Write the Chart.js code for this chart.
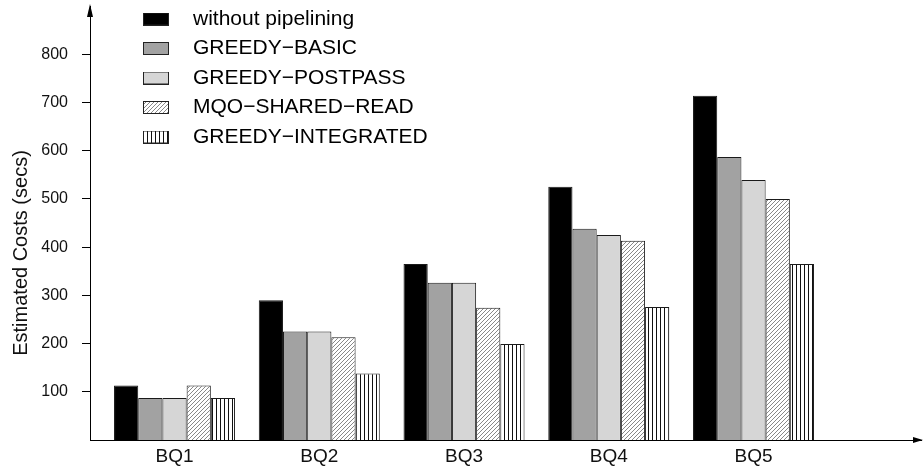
<!DOCTYPE html>
<html>
<head>
<meta charset="utf-8">
<script src="https://cdn.jsdelivr.net/npm/chart.js@4/dist/chart.umd.min.js"></script>
<style>
  body { margin: 0; background: #fff; }
  #chart { display: block; }
</style>
</head>
<body>
<canvas id="chart" width="924" height="468"></canvas>
<script>
// queries on the x axis
const queries = ['BQ1', 'BQ2', 'BQ3', 'BQ4', 'BQ5'];
const seriesNames = ['without pipelining', 'GREEDY\u2212BASIC', 'GREEDY\u2212POSTPASS', 'MQO\u2212SHARED\u2212READ', 'GREEDY\u2212INTEGRATED'];

// estimated costs (secs)
const withoutPipelining = [113, 290, 365, 525, 714];
const greedyBasic = [87, 225, 326, 438, 587];
const greedyPostpass = [87, 225, 326, 425, 539];
const mqoSharedRead = [113, 213, 274, 413, 500];
const greedyIntegrated = [87, 138, 199, 276, 365];

const yTicks = [100, 200, 300, 400, 500, 600, 700, 800];

const FONT = 'Liberation Sans, Arial, Helvetica, sans-serif';

function makeHatch() {
  const c = document.createElement('canvas');
  c.width = 4; c.height = 4;
  const g = c.getContext('2d');
  g.fillStyle = '#fff';
  g.fillRect(0, 0, 4, 4);
  g.strokeStyle = '#7a7a7a';
  g.lineWidth = 0.9;
  g.beginPath();
  g.moveTo(0, 4); g.lineTo(4, 0);
  g.moveTo(-1, 1); g.lineTo(1, -1);
  g.moveTo(3, 5); g.lineTo(5, 3);
  g.stroke();
  return g.createPattern(c, 'repeat');
}

function makeStripes() {
  const c = document.createElement('canvas');
  c.width = 4; c.height = 4;
  const g = c.getContext('2d');
  g.fillStyle = '#fff';
  g.fillRect(0, 0, 4, 4);
  g.fillStyle = '#111';
  g.fillRect(0, 0, 1, 4);
  return g.createPattern(c, 'repeat');
}

const fills = ['#000000', '#a2a2a2', '#d6d6d6', makeHatch(), makeStripes()];
const seriesData = [withoutPipelining, greedyBasic, greedyPostpass, mqoSharedRead, greedyIntegrated];

// small legend swatches
function makeSwatch(fill) {
  const c = document.createElement('canvas');
  c.width = 26; c.height = 13;
  const g = c.getContext('2d');
  g.fillStyle = fill;
  g.fillRect(0, 0, 26, 13);
  g.strokeStyle = '#222';
  g.lineWidth = 1;
  g.strokeRect(0.5, 0.5, 25, 12);
  return c;
}
const swatches = fills.map(makeSwatch);

const datasets = seriesData.map((vals, i) => ({
  label: seriesNames[i],
  data: vals.map((v, j) => ({ x: j + 1, y: v })),
  backgroundColor: fills[i],
  borderColor: '#1a1a1a',
  borderWidth: 1,
  categoryPercentage: 0.836,
  barPercentage: 1.0
}));

const extras = {
  id: 'extras',
  afterLayout(chart) {
    chart.legend.left = 121;
    chart.legend.top = 0;
  },
  afterDraw(chart) {
    const ctx = chart.ctx;
    const a = chart.chartArea;
    ctx.save();
    ctx.fillStyle = '#000';
    // arrow heads
    ctx.beginPath();
    ctx.moveTo(a.left, a.top - 2);
    ctx.lineTo(a.left - 3, a.top + 11);
    ctx.lineTo(a.left + 3, a.top + 11);
    ctx.closePath();
    ctx.fill();
    ctx.beginPath();
    ctx.moveTo(a.right + 2, a.bottom);
    ctx.lineTo(a.right - 8, a.bottom - 3);
    ctx.lineTo(a.right - 8, a.bottom + 3);
    ctx.closePath();
    ctx.fill();
    // y title
    ctx.translate(21, 253);
    ctx.rotate(-Math.PI / 2);
    ctx.font = '20px ' + FONT;
    ctx.textAlign = 'center';
    ctx.textBaseline = 'middle';
    ctx.fillStyle = '#111';
    ctx.fillText('Estimated Costs (secs)', 0, 0);
    ctx.restore();
  }
};

new Chart(document.getElementById('chart'), {
  type: 'bar',
  data: { datasets: datasets },
  plugins: [extras],
  options: {
    responsive: false,
    animation: false,
    layout: { padding: { top: 6, right: 3, left: 0, bottom: 0 } },
    plugins: {
      tooltip: { enabled: false },
      legend: {
        position: 'chartArea',
        align: 'start',
        labels: {
          usePointStyle: true,
          pointStyleWidth: 53,
          padding: 8.5,
          color: '#111',
          font: { family: FONT, size: 21 },
          generateLabels(chart) {
            return chart.data.datasets.map((ds, i) => ({
              text: ds.label,
              pointStyle: swatches[i],
              fillStyle: '#fff',
              strokeStyle: '#000',
              lineWidth: 0,
              hidden: false,
              datasetIndex: i
            }));
          }
        }
      }
    },
    scales: {
      x: {
        type: 'linear',
        min: 0.416,
        max: 6.157,
        offset: false,
        grid: { display: false, drawTicks: false },
        border: { display: true, color: '#000', width: 1 },
        afterFit(scale) {
          scale.height = 28;
          scale.paddingLeft = 0;
          scale.paddingRight = 0;
        },
        afterBuildTicks(scale) {
          scale.ticks = queries.map((q, i) => ({ value: i + 1 }));
        },
        ticks: {
          includeBounds: false,
          padding: 5,
          color: '#111',
          font: { family: FONT, size: 19 },
          callback: (v) => queries[v - 1] || ''
        }
      },
      y: {
        min: 0,
        max: 900,
        grid: { drawOnChartArea: false, drawTicks: true, tickLength: 8, color: '#000' },
        border: { display: true, color: '#000', width: 1 },
        afterFit(scale) {
          scale.width = 90;
          scale.paddingTop = 0;
          scale.paddingBottom = 0;
        },
        afterBuildTicks(scale) {
          scale.ticks = yTicks.map(v => ({ value: v }));
        },
        ticks: {
          padding: 14,
          color: '#111',
          font: { family: FONT, size: 16 }
        }
      }
    }
  }
});
</script>
</body>
</html>
